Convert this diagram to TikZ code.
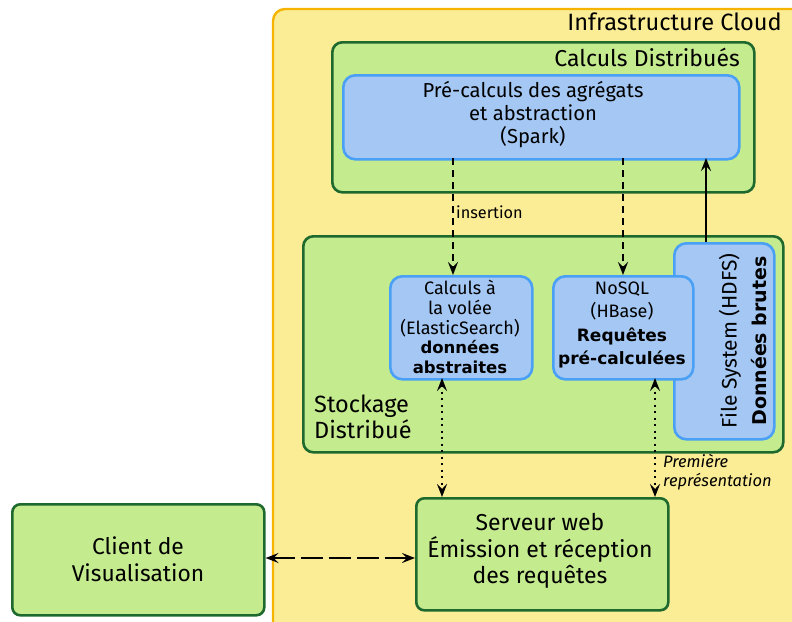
\documentclass[tikz,border=0pt]{standalone}
\usepackage{fontspec}
\setmainfont{Fira Sans}
\newfontfamily\boldfam{DejaVu Sans}
\usetikzlibrary{arrows.meta}
\definecolor{cloudfill}{RGB}{251,236,150}
\definecolor{cloudline}{RGB}{245,180,0}
\definecolor{grfill}{RGB}{197,235,143}
\definecolor{grline}{RGB}{30,105,45}
\definecolor{blfill}{RGB}{164,199,243}
\definecolor{blline}{RGB}{74,160,245}
\newcommand{\bb}[1]{{\boldfam\bfseries #1}}
\tikzset{
  greenbox/.style={draw=grline, fill=grfill, line width=2.6pt, rounded corners=10pt},
  bluebox/.style={draw=blline, fill=blfill, line width=2.6pt, rounded corners=12pt},
  tip/.style={-{Stealth[length=13pt,width=10pt,inset=5pt]}},
  dtip/.style={{Stealth[length=13pt,width=10pt,inset=5pt]}-{Stealth[length=13pt,width=10pt,inset=5pt]}},
  conn/.style={line width=1.9pt},
  txt/.style={inner sep=0pt, align=center}
}
\begin{document}
\begin{tikzpicture}[x=1pt,y=-1pt]
\useasboundingbox (0,0) rectangle (792,621);
% cloud
\draw[fill=cloudfill, draw=cloudline, line width=2.4pt, rounded corners=12pt] (273,9) rectangle (810,640);
\node[txt, anchor=east, font=\fontsize{23.6}{26}\selectfont] (cloudlbl) at (782,22) {Infrastructure Cloud};
% calculs distribues
\node[greenbox, minimum width=422pt, minimum height=150pt, anchor=north west, inner sep=0pt] (calc) at (331,41) {};
\node[txt, anchor=east, font=\fontsize{23}{26}\selectfont] (calclbl) at (740,57) {Calculs Distribués};
\node[bluebox, minimum width=396pt, minimum height=84pt, anchor=north west, inner sep=0pt] (spark) at (342,74) {};
\node[txt, font=\fontsize{20.2}{23}\selectfont] (sparktxt) at (533,115) {Pré-calculs des agrégats\\et abstraction\\(Spark)};
% stockage
\node[greenbox, minimum width=480pt, minimum height=216pt, anchor=north west, inner sep=0pt] (stock) at (302,235) {};
\node[txt, align=left, anchor=west, font=\fontsize{23.5}{26}\selectfont] (stocklbl) at (314,417) {Stockage\\Distribué};
\node[bluebox, minimum width=100pt, minimum height=196pt, anchor=north west, inner sep=0pt] (hdfs) at (673,242) {};
\node[txt, rotate=90, font=\fontsize{21}{30}\selectfont] (hdfstxt) at (743,341) {File System (HDFS)\\{\fontsize{19}{30}\selectfont\bb{Données brutes}}};
\node[bluebox, minimum width=142pt, minimum height=103pt, anchor=north west, inner sep=0pt] (elastic) at (389,275) {};
\node[txt, font=\fontsize{18}{19.7}\selectfont] (elastictxt) at (460,327) {Calculs à\\la volée\\(ElasticSearch)\\{\fontsize{16.5}{19.7}\selectfont\bb{données}}\\{\fontsize{16.5}{19.7}\selectfont\bb{abstraites}}};
\node[bluebox, minimum width=140pt, minimum height=103pt, anchor=north west, inner sep=0pt] (nosql) at (552,275) {};
\node[txt, font=\fontsize{18}{23.3}\selectfont] (nosqltxt) at (622,325) {NoSQL\\(HBase)\\{\fontsize{17}{23.3}\selectfont\bb{Requêtes}}\\{\fontsize{17}{23.3}\selectfont\bb{pré-calculées}}};
% serveur
\node[greenbox, rounded corners=8pt, minimum width=252pt, minimum height=112pt, anchor=north west, inner sep=0pt] (web) at (415,497) {};
\node[txt, font=\fontsize{23}{26.5}\selectfont] (webtxt) at (540,551) {Serveur web\\Émission et réception\\des requêtes};
\node[greenbox, rounded corners=8pt, minimum width=252pt, minimum height=111pt, anchor=north west, inner sep=0pt] (client) at (11,503) {};
\node[txt, font=\fontsize{22.8}{26.5}\selectfont] (clienttxt) at (138,559) {Client de\\Visualisation};
% connectors
\coordinate (s1) at (453,158); \coordinate (e1) at (453,275);
\coordinate (s2) at (623,158); \coordinate (e2) at (623,275);
\coordinate (h1) at (706,242); \coordinate (h2) at (706,158);
\draw[conn, tip, dash pattern=on 7pt off 5pt] (s1) -- (e1);
\node[txt, anchor=west, font=\fontsize{16.3}{18}\selectfont] (ins) at (456,212) {insertion};
\draw[conn, tip, dash pattern=on 7pt off 5pt] (s2) -- (e2);
\draw[conn, tip] (h1) -- (h2);
\coordinate (d1a) at (442,378); \coordinate (d1b) at (442,497);
\coordinate (d2a) at (655,378); \coordinate (d2b) at (655,497);
\draw[conn, dtip, dash pattern=on 2pt off 4.5pt] (d1a) -- (d1b);
\draw[conn, dtip, dash pattern=on 2pt off 4.5pt] (d2a) -- (d2b);
\node[txt, align=left, anchor=west, font=\fontsize{16.5}{19}\itshape\selectfont] (prem) at (663,472) {Première\\représentation};
\draw[conn, dtip, dash pattern=on 22pt off 6pt] (client.east |- 0,558) -- (web.west |- 0,558);
\end{tikzpicture}
\end{document}
